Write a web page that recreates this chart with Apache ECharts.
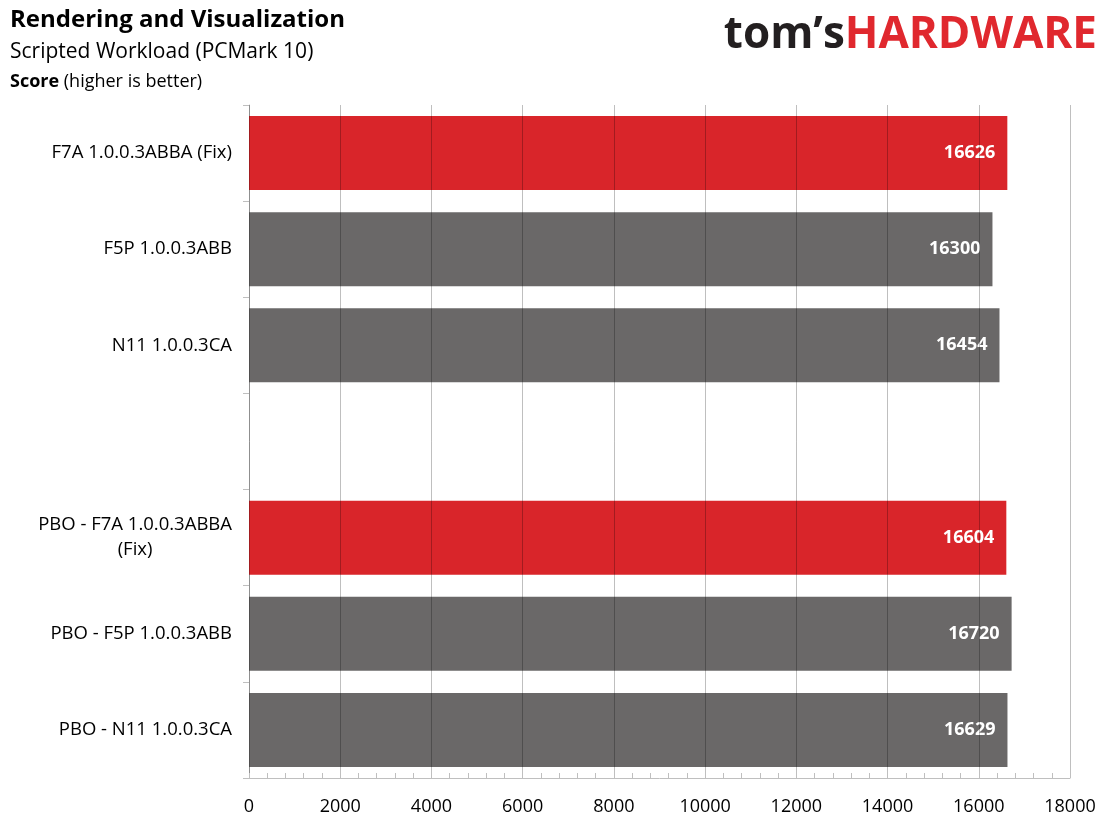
<!DOCTYPE html>
<html>
<head>
    <meta charset="UTF-8">
    <title>Rendering and Visualization</title>
    <script src="https://cdn.jsdelivr.net/npm/echarts@6/dist/echarts.min.js"></script>
    <style>
        html, body { margin: 0; padding: 0; background: #fff; }
        #chart { width: 1112px; height: 833px; }
    </style>
</head>
<body>
<div id="chart"></div>
<script type="text/javascript">
    // data
    var categories = [
        'F7A 1.0.0.3ABBA (Fix)',
        'F5P 1.0.0.3ABB',
        'N11 1.0.0.3CA',
        '',
        'PBO - F7A 1.0.0.3ABBA\n(Fix)',
        'PBO - F5P 1.0.0.3ABB',
        'PBO - N11 1.0.0.3CA'
    ];
    var scores = [16626, 16300, 16454, null, 16604, 16720, 16629];
    var highlighted = [true, false, false, false, true, false, false];
    var xTicks = [0, 2000, 4000, 6000, 8000, 10000, 12000, 14000, 16000, 18000];

    var RED = '#d9252a', GREY = '#6a6868', LINE = '#bfbfbf';
    var FONT = '"Open Sans", "Noto Sans", sans-serif';

    var chart = echarts.init(document.getElementById('chart'));

    var barData = [];
    for (var i = 0; i < scores.length; i++) {
        barData.push({
            value: scores[i],
            itemStyle: { color: highlighted[i] ? RED : GREY }
        });
    }

    var option = {
        animation: false,
        backgroundColor: '#fff',
        textStyle: { fontFamily: FONT },
        graphic: [
            { type: 'text', left: 10, top: 8, style: { text: 'Rendering and Visualization', font: 'bold 24px ' + FONT, fill: '#000' } },
            { type: 'text', left: 10, top: 42, style: { text: 'Scripted Workload (PCMark 10)', font: '21px ' + FONT, fill: '#000' } },
            { type: 'text', left: 10, top: 73, style: {
                text: '{b|Score} (higher is better)',
                font: '18px ' + FONT, fill: '#000',
                rich: { b: { fontWeight: 'bold', fontSize: 18, fontFamily: FONT, fill: '#000' } }
            } },
            { type: 'text', right: 15, top: 13, style: {
                text: '{t|tom\u2019s}{h|HARDWARE}',
                rich: {
                    t: { fontFamily: FONT, fontWeight: 'bold', fontSize: 44, fill: '#231f20' },
                    h: { fontFamily: FONT, fontWeight: 'bold', fontSize: 44, fill: '#e0282e' }
                }
            } }
        ],
        grid: { left: 249, right: 42, top: 105, bottom: 55, containLabel: false },
        xAxis: {
            type: 'value',
            min: 0, max: 18000, interval: 2000,
            z: 3,
            axisLine: { show: true, lineStyle: { color: LINE, width: 1 } },
            axisTick: { show: true, inside: true, length: 5, lineStyle: { color: LINE } },
            minorTick: { show: true, splitNumber: 5, length: 5, lineStyle: { color: LINE } },
            splitLine: { show: true, lineStyle: { color: 'rgba(0,0,0,0.25)', width: 1 } },
            axisLabel: {
                margin: 20, fontSize: 18, color: '#000', fontFamily: FONT,
                formatter: function (v) { return xTicks.indexOf(v) >= 0 ? String(v) : ''; }
            }
        },
        yAxis: {
            type: 'category',
            inverse: true,
            data: categories,
            axisLine: { show: true, lineStyle: { color: LINE, width: 1 } },
            axisTick: { show: true, length: 6, lineStyle: { color: LINE } },
            axisLabel: {
                margin: 17, color: '#000', fontSize: 18.5, fontFamily: FONT, lineHeight: 25,
                formatter: function (v) {
                    var parts = v.split('\n');
                    if (parts.length > 1) return '{a|' + parts[0] + '}\n{c|' + parts[1] + '}';
                    return v;
                },
                rich: {
                    a: { fontSize: 18.5, fontFamily: FONT, color: '#000', lineHeight: 25 },
                    c: { fontSize: 18.5, fontFamily: FONT, color: '#000', lineHeight: 25, align: 'center' }
                }
            }
        },
        series: [{
            type: 'bar',
            data: barData,
            barCategoryGap: '23%',
            label: {
                show: true,
                position: 'insideRight',
                distance: 12,
                color: '#fff',
                fontWeight: 'bold',
                fontSize: 18,
                fontFamily: FONT
            }
        }]
    };
    chart.setOption(option);
</script>
</body>
</html>
